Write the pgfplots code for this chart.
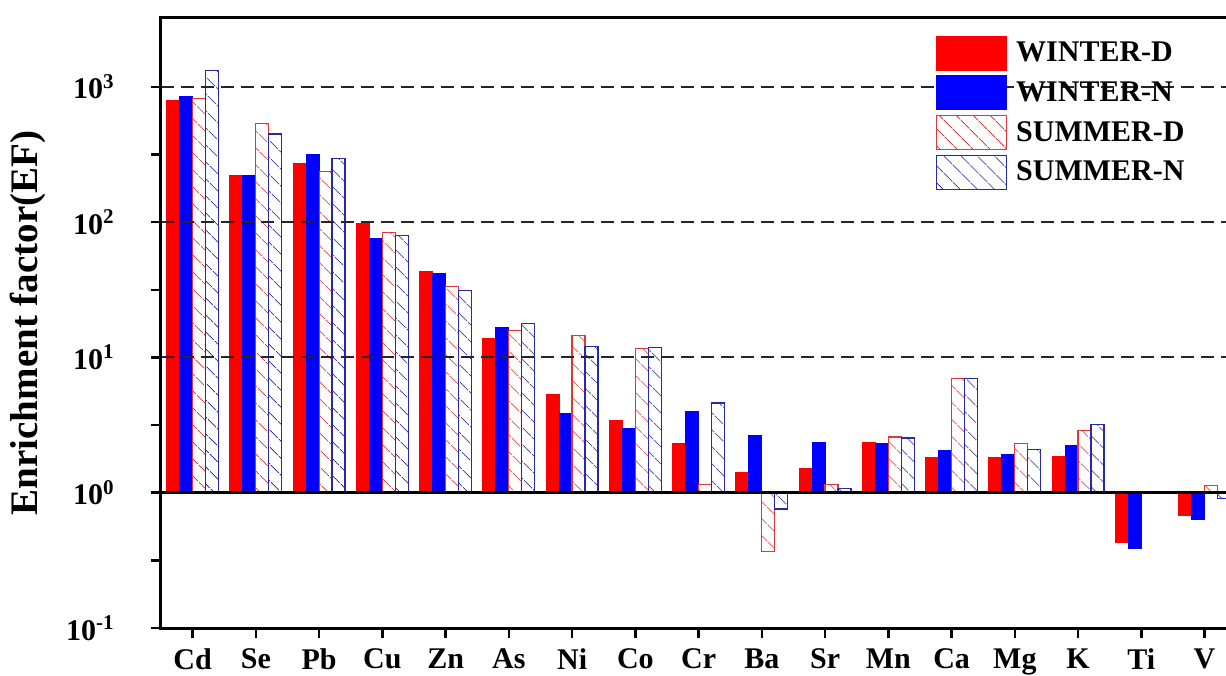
\documentclass[border=0pt]{standalone}
\usepackage{fontspec}
\setmainfont{Liberation Serif}
\usepackage{pgfplots}
\pgfplotsset{compat=1.18}
\usetikzlibrary{patterns.meta}

\definecolor{wd}{RGB}{255,0,0}
\definecolor{wn}{RGB}{0,0,255}
\definecolor{sdc}{RGB}{225,55,55}
\definecolor{snc}{RGB}{40,40,170}

\pgfplotsset{boxlegend/.style={legend image code/.code={\draw[##1] (0pt,-8.5pt) rectangle (35pt,8.5pt);}}}

\begin{document}
\begin{tikzpicture}
\useasboundingbox (-80.5pt,-23.5pt) rectangle (532.5pt,314pt);
\begin{axis}[
  at={(0,0)}, anchor=south west,
  scale only axis,
  width=537.6pt, height=305pt,
  ymode=log, ymin=0.1, ymax=3221,
  xmin=-0.5, xmax=16.5,
  ybar=0pt,
  axis on top,
  xtick={0,...,16},
  xticklabels={Cd,Se,Pb,Cu,Zn,As,Ni,Co,Cr,Ba,Sr,Mn,Ca,Mg,K,Ti,V},
  ytick={0.1,1,10,100,1000},
  yticklabels={10\textsuperscript{-1},10\textsuperscript{0},10\textsuperscript{1},10\textsuperscript{2},10\textsuperscript{3}},
  minor ytick={0.3162,3.162,31.62,316.2},
  tick align=outside, xtick pos=left, ytick pos=left,
  major tick length=5pt, minor tick length=5pt,
  tick style={line width=1.2pt, black},
  axis line style={line width=1.5pt},
  ymajorgrids,
  major grid style={black!85, line width=1pt, dash pattern=on 6.5pt off 3.5pt},
  extra y ticks={1}, extra y tick labels={},
  extra y tick style={grid=major, major grid style={solid, black, line width=1.5pt}},
  tick label style={font=\fontsize{15}{18}\selectfont\bfseries},
  yticklabel style={inner sep=0pt, anchor=east, xshift=-18pt},
  xticklabel style={inner sep=0pt, anchor=north, yshift=-5pt},
  ylabel={Enrichment factor(EF)},
  ylabel style={font=\fontsize{19.5}{22}\selectfont\bfseries, at={(axis description cs:-0.1237,0.5)}, anchor=center},
  legend style={at={(axis description cs:0.7208,0.9705)}, anchor=north west, draw=none, fill=none,
    inner sep=0pt, outer sep=0pt, row sep=2.25pt, column sep=4.5pt,
    font=\fontsize{15}{17}\selectfont\bfseries,
    nodes={inner sep=0pt, anchor=west}},
  legend cell align=left,
]
\addplot[boxlegend, bar width=0.2055, bar shift=-0.308, fill=wd, draw=wd, line width=0.5pt] coordinates {
(0,789) (1,220) (2,272) (3,96.8) (4,43.2) (5,13.7) (6,5.36) (7,3.41) (8,2.30)
(9,1.40) (10,1.52) (11,2.35) (12,1.81) (13,1.81) (14,1.85) (15,0.429) (16,0.676)};
\addlegendentry{WINTER-D}
\addplot[boxlegend, bar width=0.2055, bar shift=-0.1025, fill=wn, draw=wn, line width=0.5pt] coordinates {
(0,849) (1,220) (2,315) (3,75.8) (4,42.0) (5,16.5) (6,3.88) (7,2.97) (8,3.95)
(9,2.65) (10,2.33) (11,2.30) (12,2.04) (13,1.91) (14,2.24) (15,0.390) (16,0.631)};
\addlegendentry{WINTER-N}
\addplot[boxlegend, bar width=0.2055, bar shift=0.1025, draw=sdc, line width=0.6pt,
  pattern={Lines[angle=-45,distance=6.4pt,line width=0.5pt]}, pattern color=sdc] coordinates {
(0,817) (1,534) (2,236) (3,83.9) (4,33.5) (5,15.7) (6,14.5) (7,11.7) (8,1.15)
(9,0.368) (10,1.15) (11,2.58) (12,6.96) (13,2.30) (14,2.89) (16,1.13)};
\addlegendentry{SUMMER-D}
\addplot[boxlegend, bar width=0.2055, bar shift=0.308, draw=snc, line width=0.6pt,
  pattern={Lines[angle=-45,distance=6.4pt,line width=0.5pt]}, pattern color=snc] coordinates {
(0,1321) (1,448) (2,294) (3,79.3) (4,31.0) (5,17.7) (6,12.1) (7,11.9) (8,4.60)
(9,0.757) (10,1.07) (11,2.54) (12,6.96) (13,2.08) (14,3.18) (16,0.903)};
\addlegendentry{SUMMER-N}
\end{axis}
\end{tikzpicture}
\end{document}
